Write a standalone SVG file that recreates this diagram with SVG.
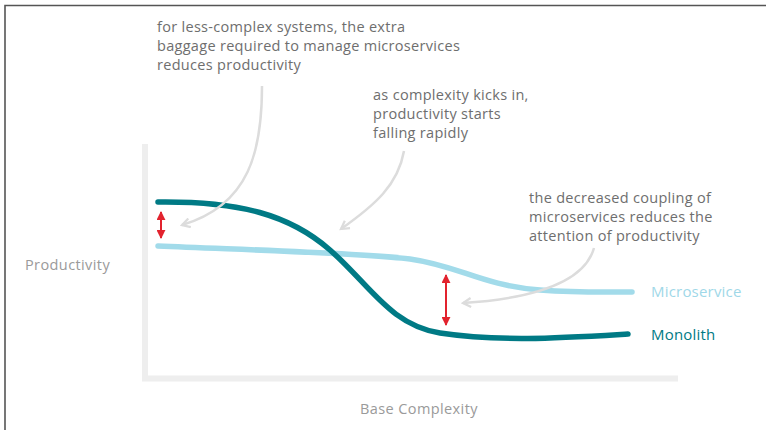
<svg xmlns="http://www.w3.org/2000/svg" width="766" height="430" viewBox="0 0 766 430">
<defs>
<style>
.note{font-family:"Open Sans","Liberation Sans",sans-serif;font-size:14.5px;letter-spacing:0.3px;fill:#6e6e6e}
.axlab{font-family:"Open Sans","Liberation Sans",sans-serif;font-size:14.5px;letter-spacing:0.4px;fill:#9a9a9a}
.serie{font-family:"Open Sans","Liberation Sans",sans-serif;font-size:15px;letter-spacing:0.2px}
.axis{stroke:#eeeeee;stroke-width:6;fill:none}
.curve{fill:none;stroke-width:5.5;stroke-linecap:round}
.pointer{fill:none;stroke:#dcdcdc;stroke-width:2.5;marker-end:url(#chev)}
.gap{stroke:#e2232e;stroke-width:2;marker-start:url(#tri);marker-end:url(#tri)}
</style>
<marker id="chev" viewBox="0 0 10 10" refX="8" refY="5" markerWidth="4.5" markerHeight="4.5" orient="auto" markerUnits="strokeWidth">
<path d="M1,1 L8,5 L1,9" fill="none" stroke="#dcdcdc" stroke-width="2"/>
</marker>
<marker id="tri" viewBox="0 0 10 10" refX="9" refY="5" markerWidth="4.5" markerHeight="4.5" orient="auto-start-reverse" markerUnits="strokeWidth">
<path d="M0,0 L10,5 L0,10 Z" fill="#e2232e"/>
</marker>
</defs>
<rect width="766" height="430" fill="#ffffff"/>
<path d="M5,430 V5.5 H766" fill="none" stroke="#555555" stroke-width="1.6"/>
<g id="axes">
<path class="axis" d="M145,144 V378.5 H678"/>
</g>
<g id="curves">
<path id="microservice-curve" class="curve" stroke="#a2dbea" d="M158,246 C250,250 360,253 410,259 C460,266 480,285 540,290 C580,293 610,292 632,292"/>
<path id="monolith-curve" class="curve" stroke="#007a85" d="M158,202 C240,201 290,215 330,250 S390,325 440,333 C500,342 560,338 628,334"/>
</g>
<g id="connectors">
<path class="pointer" d="M262,86 C262,150 250,205 182,225"/>
<path class="pointer" d="M404,151 C398,185 375,205 341,229"/>
<path class="pointer" d="M594,248 C585,280 540,298 463,303"/>
<line class="gap" x1="161" y1="212" x2="161" y2="238"/>
<line class="gap" x1="446" y1="275" x2="446" y2="325"/>
</g>
<g id="note-baggage">
<text class="note" x="157" y="32">for less-complex systems, the extra</text>
<text class="note" x="157" y="51">baggage required to manage microservices</text>
<text class="note" x="157" y="69.5">reduces productivity</text>
</g>
<g id="note-complexity">
<text class="note" x="373" y="100">as complexity kicks in,</text>
<text class="note" x="373" y="119">productivity starts</text>
<text class="note" x="373" y="137.5">falling rapidly</text>
</g>
<g id="note-coupling">
<text class="note" x="529" y="203">the decreased coupling of</text>
<text class="note" x="529" y="222">microservices reduces the</text>
<text class="note" x="529" y="240.5">attention of productivity</text>
</g>
<g id="label-microservice"><text class="serie" x="651" y="297" fill="#9fd8e8">Microservice</text></g>
<g id="label-monolith"><text class="serie" x="651" y="340" fill="#007a85">Monolith</text></g>
<g id="label-y"><text class="axlab" x="25" y="270">Productivity</text></g>
<g id="label-x"><text class="axlab" x="360" y="414">Base Complexity</text></g>
</svg>
